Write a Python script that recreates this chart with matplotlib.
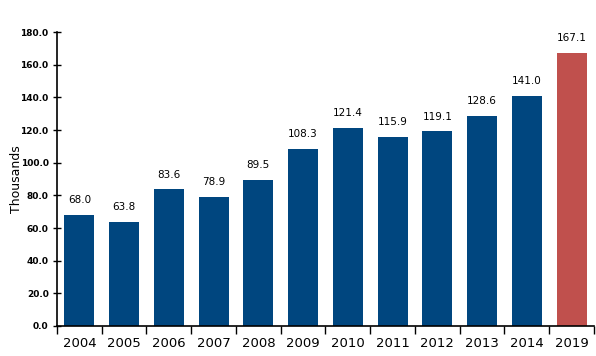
import matplotlib
matplotlib.use("Agg")
import matplotlib.pyplot as plt
import numpy as np

years = ["2004", "2005", "2006", "2007", "2008", "2009", "2010",
         "2011", "2012", "2013", "2014", "2019"]
values = [68.0, 63.8, 83.6, 78.9, 89.5, 108.3, 121.4,
          115.9, 119.1, 128.6, 141.0, 167.1]
colors = ["#00467F"] * 11 + ["#C0504D"]

fig = plt.figure(figsize=(5.96, 3.56), dpi=100)
ax = fig.add_axes([0.0956, 0.0843, 0.9010, 0.8257])

x = np.arange(len(years))
ax.bar(x, values, width=0.67, color=colors, zorder=2)

for xi, v in zip(x, values):
    ax.text(xi, v + 6, f"{v:.1f}", ha="center", va="bottom", fontsize=7.5,
            family="DejaVu Sans")

ax.set_xlim(-0.5, len(years) - 0.5)
ax.set_ylim(0, 180)
ax.set_yticks(np.arange(0, 181, 20))
ax.set_yticklabels([f"{t:.1f}" for t in range(0, 181, 20)],
                   fontsize=6.5, fontweight="bold", family="Liberation Sans Narrow")
ax.tick_params(axis="y", direction="inout", length=6, width=1, pad=3)

# category labels centered, tick marks at boundaries
ax.set_xticks(np.arange(-0.5, len(years), 1))
ax.set_xticklabels([])
ax.tick_params(axis="x", direction="out", length=6, width=1)
ax.set_xticks(x, minor=True)
ax.set_xticklabels(years, minor=True, fontsize=9.5, family="DejaVu Sans")
ax.tick_params(axis="x", which="minor", length=0, pad=8)

ax.set_ylabel("Thousands", fontsize=9, family="DejaVu Sans", va="center")
ax.yaxis.set_label_coords(-0.076, 0.5)

for s in ["top", "right"]:
    ax.spines[s].set_visible(False)
ax.spines["left"].set_linewidth(1.2)
ax.spines["bottom"].set_linewidth(1.2)

fig.savefig("out.png", dpi=100)
